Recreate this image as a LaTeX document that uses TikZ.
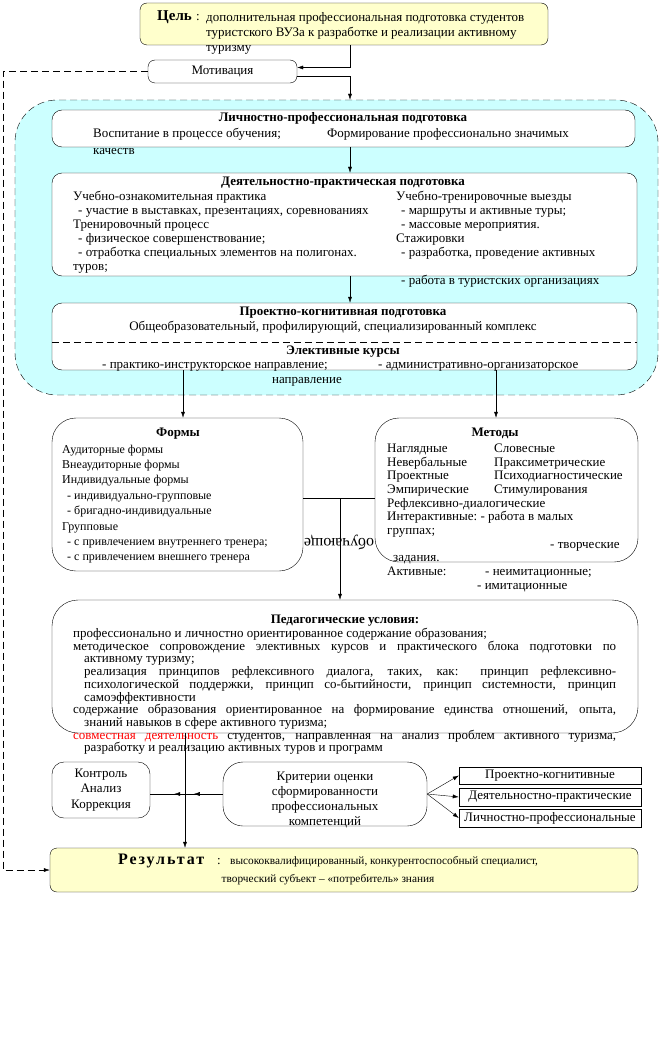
\documentclass[tikz,border=0pt]{standalone}
\usepackage{fontspec}
\setmainfont{Liberation Serif}
\usetikzlibrary{arrows.meta,positioning,fit,decorations.markings}
\definecolor{goalfill}{RGB}{255,255,204}
\definecolor{zonefill}{RGB}{204,255,255}
\definecolor{accentred}{RGB}{255,0,0}

\begin{document}
\begin{tikzpicture}[x=1pt,y=-1pt,
	font=\fontsize{13}{14}\selectfont,
	tip/.style={-{Latex[length=6pt,width=4pt]}},
	goalbox/.style={draw, fill=goalfill, rounded corners=7pt, inner sep=0pt},
	zone/.style={draw, dash pattern=on 7pt off 4pt, fill=zonefill, rounded corners=42pt, inner sep=0pt},
	stagebox/.style={draw, fill=white, rounded corners=10pt, inner sep=0pt},
	softbox/.style={draw, fill=white, rounded corners=24pt, inner sep=0pt},
	smallbox/.style={draw, fill=white, rounded corners=12pt, inner sep=0pt},
	critbox/.style={draw, fill=white, inner sep=0pt},
	txt/.style={inner sep=0pt, align=left},
	ctxt/.style={inner sep=0pt, align=center},
	head/.style={inner sep=0pt, font=\fontsize{13}{14}\selectfont\bfseries},
	dashlink/.style={dash pattern=on 7pt off 4pt},
	midtips/.style={postaction={decorate}, decoration={markings,
		mark=at position 0.4 with {\arrow{Latex[length=6pt,width=4pt]}},
		mark=at position 0.67 with {\arrow{Latex[length=6pt,width=4pt]}}}},
]
\useasboundingbox (0,0) rectangle (664,1043);
\coordinate (spine) at (350,0);
\coordinate (formcol) at (183,0);
\coordinate (methcol) at (496,0);
\coordinate (joint) at (340,498);
\coordinate (down) at (185,0);
\coordinate (loopcorner) at (3,0);
\coordinate (electline) at (0,342);

\node[goalbox, fit={(140,3) (548,45)}] (goal) {};
\node[head, font=\fontsize{15}{17}\selectfont\bfseries, anchor=mid west] (goalhead) at (157,18) {Цель};
\node[txt, anchor=mid west] (goalcolon) at (196,18) {:};
\node[txt, anchor=north west, font=\fontsize{13}{15}\selectfont] (goaltext) at (206,12) {дополнительная профессиональная подготовка студентов\\туристского ВУЗа к разработке и реализации активному\\туризму};

\node[smallbox, rounded corners=7pt, fit={(148,60) (297,83)}] (motiv) {};
\node[ctxt] (motivtext) at (motiv.center) {Мотивация};

\node[zone, fit={(15,100) (658,395)}] (zone) {};

\node[stagebox, fit={(52,110) (635,147)}] (lichn) {};
\node[head, anchor=mid] (lichnhead) at (343,119) {Личностно-профессиональная подготовка};
\node[txt, anchor=mid west] (lichnleft) at (93,135) {Воспитание в процессе обучения;};
\node[txt, anchor=mid west] (lichnright) at (327,135) {Формирование профессионально значимых};
\node[txt, anchor=mid west] (lichnwrap) at (93,152) {качеств};

\node[stagebox, fit={(52,173) (637,276)}] (pract) {};
\node[head, anchor=mid] (practhead) at (343,183) {Деятельностно-практическая подготовка};
\node[txt, anchor=north west] (practleft) at (73,191) {Учебно-ознакомительная практика\\
\hspace*{5pt}- участие в выставках, презентациях, соревнованиях\\
Тренировочный процесс\\
\hspace*{5pt}- физическое совершенствование;\\
\hspace*{5pt}- отработка специальных элементов на полигонах.\\
туров;};
\node[txt, anchor=north west] (practright) at (396,191) {Учебно-тренировочные выезды\\
\hspace*{5pt}- маршруты и активные туры;\\
\hspace*{5pt}- массовые мероприятия.\\
Стажировки\\
\hspace*{5pt}- разработка, проведение активных\\[14pt]
\hspace*{5pt}- работа в туристских организациях};

\node[stagebox, fit={(52,303) (637,370)}] (proj) {};
\node[head, anchor=mid] (projhead) at (343,313) {Проектно-когнитивная подготовка};
\node[txt, anchor=mid] (projtext) at (333,328) {Общеобразовательный, профилирующий, специализированный комплекс};
\draw[dashlink] (proj.west |- electline) -- (proj.east |- electline);
\node[head, anchor=mid] (electhead) at (343,352) {Элективные курсы};
\node[txt, anchor=mid west] (electleft) at (102,366) {- практико-инструкторское направление;};
\node[txt, anchor=mid west] (electright) at (378,366) {- административно-организаторское};
\node[txt, anchor=mid] (electwrap) at (307,381) {направление};

\node[softbox, fit={(52,418) (303,571)}] (forms) {};
\node[head, anchor=mid] (formshead) at (178,434) {Формы};
\node[txt, anchor=north west, font=\fontsize{12}{15.4}\selectfont] (formstext) at (62,444.5) {Аудиторные формы\\
Внеаудиторные формы\\
Индивидуальные формы\\
\hspace*{5pt}- индивидуально-групповые\\
\hspace*{5pt}- бригадно-индивидуальные\\
Групповые\\
\hspace*{5pt}- с привлечением внутреннего тренера;\\
\hspace*{5pt}- с привлечением внешнего тренера};

\node[softbox, fit={(375,418) (638,562)}] (methods) {};
\node[head, anchor=mid] (methodshead) at (495,434) {Методы};
\node[txt, anchor=north west, font=\fontsize{13}{13.7}\selectfont] (methodstext) at (387,443.5) {\makebox[107pt][l]{Наглядные}Словесные\\
\makebox[107pt][l]{Невербальные}Праксиметрические\\
\makebox[107pt][l]{Проектные}Психодиагностические\\
\makebox[107pt][l]{Эмпирические}Стимулирования\\
Рефлексивно-диалогические\\
Интерактивные:\ - работа в малых\\
группах;\\
\hspace*{163pt}- творческие\\
\hspace*{6pt}задания.\\
\makebox[98pt][l]{Активные:}- неимитационные;\\
\hspace*{90pt}- имитационные};

\draw (forms.east |- joint) -- (methods.west |- joint);
\node[inner sep=0pt, rotate=180, font=\fontsize{16}{18}\selectfont] (mirror) at (339,542) {обучающе};

\node[softbox, rounded corners=26pt, fit={(52,600) (638,733)}] (cond) {};
\draw[tip] (joint) -- (cond.north -| joint);
\node[head, anchor=mid] (condhead) at (345,621) {Педагогические условия:};
\node[inner sep=0pt, anchor=north west, text width=543pt, align=justify, font=\fontsize{13}{12.7}\selectfont] (condtext) at (73,628) {\parindent=0pt\hyphenpenalty=10000\tolerance=9999\emergencystretch=20pt
\hangindent=11pt\hangafter=1 профессионально и личностно ориентированное содержание образования;\par
\hangindent=11pt\hangafter=1 методическое сопровождение элективных курсов и практического блока подготовки по\linebreak активному туризму;\par
\leftskip=11pt реализация принципов рефлексивного диалога, таких, как: принцип рефлексивно-\linebreak психологической поддержки, принцип со-бытийности, принцип системности, принцип\linebreak самоэффективности\par
\leftskip=0pt\hangindent=11pt\hangafter=1 содержание образования ориентированное на формирование единства отношений, опыта,\linebreak знаний навыков в сфере активного туризма;\par
\hangindent=11pt\hangafter=1 \textcolor{accentred}{совместная деятельность} студентов, направленная на анализ проблем активного туризма,\linebreak разработку и реализацию активных туров и программ\par};

\node[smallbox, fit={(52,762) (150,818)}] (ctrl) {};
\node[ctxt, font=\fontsize{13}{15.5}\selectfont] (ctrltext) at (101,790) {Контроль\\Анализ\\Коррекция};
\node[softbox, rounded corners=20pt, fit={(223,762) (427,826)}] (crit) {};
\node[ctxt, font=\fontsize{13}{15}\selectfont] (crittext) at (325,800) {Критерии оценки\\сформированности\\профессиональных\\компетенций};
\node[critbox, fit={(459,767) (641,784)}] (critcog) {};
\node[ctxt] (critcogtext) at (critcog.center) {Проектно-когнитивные};
\node[critbox, fit={(459,788) (641,806)}] (critact) {};
\node[ctxt] (critacttext) at (critact.center) {Деятельностно-практические};
\node[critbox, fit={(459,809) (641,827)}] (critpers) {};
\node[ctxt] (critperstext) at (critpers.center) {Личностно-профессиональные};

\node[goalbox, fit={(50,848) (638,892)}] (result) {};
\node[head, font=\fontsize{16}{18}\selectfont\bfseries\addfontfeature{LetterSpace=12}, anchor=mid west] (resulthead) at (118,862) {Результат};
\node[txt, anchor=mid west] (resultcolon) at (217,862) {:};
\node[txt, anchor=mid west, font=\fontsize{11.3}{13}\selectfont] (resulttext) at (230,862) {высококвалифицированный, конкурентоспособный специалист,};
\node[txt, anchor=mid, font=\fontsize{11.3}{13}\selectfont] (resultwrap) at (328,880) {творческий субъект – «потребитель» знания};

\draw[tip] (goal.south -| spine) |- ([yshift=4pt]motiv.east);
\draw[tip] ([yshift=-5pt]motiv.east) -| (zone.north -| spine);
\draw[tip] (lichn.south -| spine) -- (pract.north -| spine);
\draw[tip] (pract.south -| spine) -- (proj.north -| spine);
\draw[tip] (proj.south -| formcol) -- (forms.north -| formcol);
\draw[tip] (proj.south -| methcol) -- (methods.north -| methcol);
\draw[tip] (cond.south -| down) -- (result.north -| down);
\draw[midtips] (crit.west) -- (ctrl.east |- crit.west);
\draw[tip] (crit.east) -- (critcog.west);
\draw[tip] (crit.east) -- (critact.west);
\draw[tip] (crit.east) -- (critpers.west);
\draw[dashlink, tip] (motiv.west) -- (motiv.west -| loopcorner) |- (result.west);
\end{tikzpicture}
\end{document}
